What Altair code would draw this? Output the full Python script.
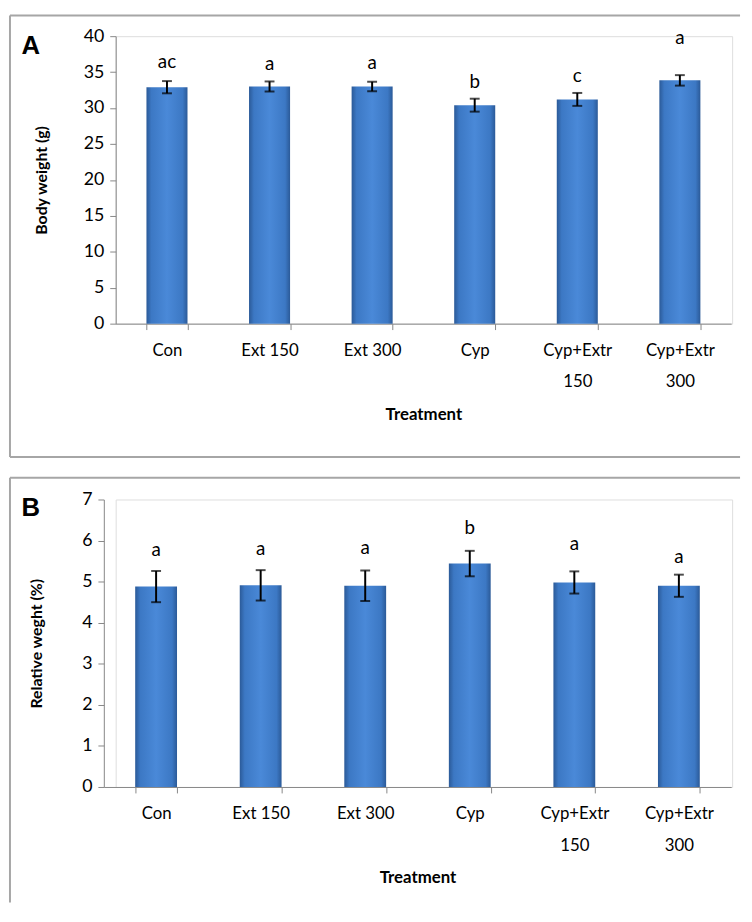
import altair as alt
import pandas as pd

treatments = ["Con", "Ext 150", "Ext 300", "Cyp", "Cyp+Extr 150", "Cyp+Extr 300"]

bw_mean = [32.9, 33.0, 33.0, 30.4, 31.2, 33.85]
bw_err = [0.85, 0.7, 0.65, 0.9, 0.9, 0.73]
bw_letters = ["ac", "a", "a", "b", "c", "a"]
bw_letter_y = [36.4, 36.1, 36.2, 33.6, 34.5, 39.7]

rw_mean = [4.88, 4.91, 4.90, 5.44, 4.98, 4.90]
rw_err = [0.38, 0.37, 0.37, 0.31, 0.27, 0.27]
rw_letters = ["a", "a", "a", "b", "a", "a"]
rw_letter_y = [5.77, 5.8, 5.81, 6.31, 5.91, 5.61]

FONT = "Lato"
AXIS_COLOR = "#868686"
BORDER = "#a6a6a6"

bar_grad = alt.Gradient(
    gradient="linear",
    stops=[
        alt.GradientStop(color="#2b5a98", offset=0),
        alt.GradientStop(color="#3c78c4", offset=0.12),
        alt.GradientStop(color="#4a89d8", offset=0.5),
        alt.GradientStop(color="#3c78c4", offset=0.88),
        alt.GradientStop(color="#2b5a98", offset=1),
    ],
    x1=0, x2=1, y1=0, y2=0,
)

W = 624  # shared plot width, plot left at page x 116


def panel(means, errs, letters, letter_y, ymax, step, ytitle, letter, h, lx, shift, box):
    df = pd.DataFrame({
        "t": treatments,
        "m": means,
        "lo": [m - e for m, e in zip(means, errs)],
        "hi": [m + e for m, e in zip(means, errs)],
        "lab": letters,
        "ly": letter_y,
    })
    xaxis = alt.Axis(
        labelAngle=0, tickBand="extent", tickSize=6, labelPadding=13,
        labelExpr="test(/\\+/, datum.label) ? split(datum.label, ' ') : datum.label",
        labelLineHeight=32, labelFontSize=17, labelFont=FONT, labelColor="black",
        labelOverlap=False,
        titleFont=FONT, titleFontSize=17, titleFontWeight="bold", titleColor="black",
        titlePadding=17, domainColor=AXIS_COLOR, tickColor=AXIS_COLOR,
    )
    yaxis = alt.Axis(values=list(range(0, ymax + 1, step)), labelOverlap=False,
                     grid=False, tickSize=6, labelPadding=6, offset=shift,
                     labelFontSize=18, labelFont=FONT, labelColor="black",
                     titleFont=FONT, titleFontSize=16, titleFontWeight="bold",
                     titleColor="black", titlePadding=lx,
                     domainColor=AXIS_COLOR, tickColor=AXIS_COLOR)
    xscale = alt.Scale(paddingInner=0.6, paddingOuter=0.3, range=[-shift, W - 1])
    yscale = alt.Scale(domain=[0, ymax], nice=False)

    def X():
        return alt.X("t:N", sort=treatments, title="Treatment", scale=xscale, axis=xaxis)

    def Y(f):
        return alt.Y(f, scale=yscale, title=ytitle, axis=yaxis)

    base = alt.Chart(df)
    bars = base.mark_bar(color=bar_grad).encode(x=X(), y=Y("m:Q"))
    rule = base.mark_rule(color="black", strokeWidth=2).encode(x=X(), y=Y("lo:Q"), y2="hi:Q")
    cap_lo = base.mark_tick(color="black", thickness=2, size=10, orient="horizontal").encode(
        x=X(), y=Y("lo:Q"))
    cap_hi = base.mark_tick(color="black", thickness=2, size=10, orient="horizontal").encode(
        x=X(), y=Y("hi:Q"))
    txt = base.mark_text(font=FONT, fontSize=19, color="black", baseline="middle").encode(
        x=X(), y=Y("ly:Q"), text="lab:N")

    left, right, top, bottom, draw_bottom = box
    border_df = pd.DataFrame({"k": [0]})
    lines = []
    lines.append(alt.Chart(border_df).mark_rule(color=BORDER, strokeWidth=2).encode(
        x=alt.value(left), x2=alt.value(right), y=alt.value(top)))
    lines.append(alt.Chart(border_df).mark_rule(color=BORDER, strokeWidth=2).encode(
        x=alt.value(left), y=alt.value(top), y2=alt.value(bottom)))
    if draw_bottom:
        lines.append(alt.Chart(border_df).mark_rule(color=BORDER, strokeWidth=2).encode(
            x=alt.value(left), x2=alt.value(right), y=alt.value(bottom)))
    label = alt.Chart(border_df).mark_text(
        text=letter, font="Liberation Sans", fontSize=26, fontWeight="bold",
        color="black", align="center", baseline="middle").encode(
        x=alt.value(left + 21), y=alt.value(top + 31))

    return alt.layer(bars, rule, cap_lo, cap_hi, txt, *lines, label).properties(
        width=W, height=h)


# page coords: A plot x 116..740, y 30..321 ; B axis x 104..739, y 497..788
chart_a = panel(bw_mean, bw_err, bw_letters, bw_letter_y, 40, 5, "Body weight (g)", "A",
                291, 34, 0, (9 - 116, 748 - 116, 9 - 30, 456 - 30, True))
chart_b = panel(rw_mean, rw_err, rw_letters, rw_letter_y, 7, 1, "Relative weght (%)", "B",
                291, 38, 12, (9 - 116, 748 - 116, 475 - 497, 905 - 497, False))

chart = alt.vconcat(chart_a, chart_b, spacing=17).properties(
    padding=0
).configure_view(stroke=None).configure(background="white")

chart.save("out.html", embed_options={"renderer": "svg", "actions": False})
